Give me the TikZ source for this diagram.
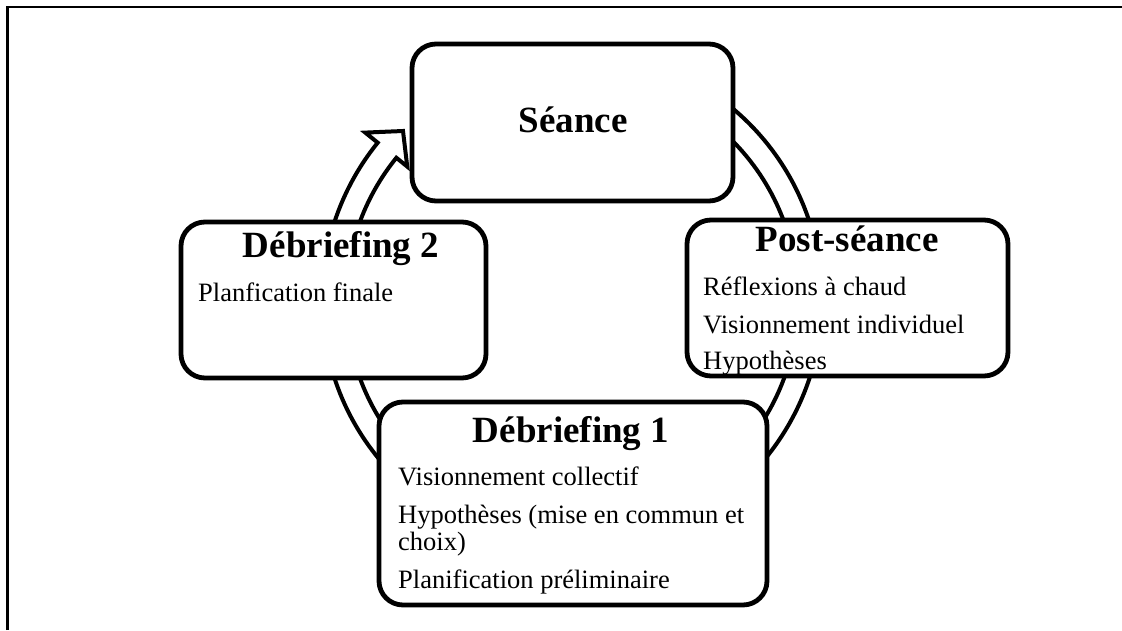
\documentclass[tikz,border=0pt]{standalone}
\usepackage{fontspec}
\setmainfont{Liberation Serif}

\begin{document}
\begin{tikzpicture}[x=1pt,y=1pt]
      \tikzset{
        box/.style={draw,line width=4.8pt,rounded corners=24pt,fill=white,inner sep=0pt},
        title/.style={anchor=base,inner sep=0pt,font=\fontsize{37}{40}\selectfont\bfseries},
        item/.style={anchor=base west,inner sep=0pt,font=\fontsize{26.5}{30}\selectfont},
        ring/.style={draw,line width=4pt,fill=white,line join=miter}
      }
      \useasboundingbox (0,0) rectangle (1122,630);

      % frame
      \draw[line width=2.4pt] (7.3,0) -- (7.3,622.7) -- (1122,622.7);

      % cycle arrow
      \draw[ring,shift={(572,330)}] (100:250) arc[start angle=100,end angle=-219,radius=250]
            -- (141:266) -- (135:239) -- (141:212) -- (141:226)
            arc[start angle=-219,end angle=100,radius=226] -- cycle;

      \node[box,minimum width=321pt,minimum height=157pt] (seance) at (572.5,507.5) {};
      \node[box,minimum width=305pt,minimum height=156pt] (deb2) at (333.5,330) {};
      \node[box,minimum width=321pt,minimum height=156pt] (post) at (847.5,332) {};
      \node[box,minimum width=388pt,minimum height=203pt] (deb1) at (573,126.5) {};

      \node[title] (seanceT) at (573,497) {Séance};

      \node[title] (deb2T) at (341,372) {Débriefing 2};
      \node[item] (deb2a) at (198,328.3) {Planfication finale};

      \node[title] (postT) at (847,378) {Post-séance};
      \node[item] (posta) at (703,334.3) {Réflexions à chaud};
      \node[item] (postb) at (703,296.7) {Visionnement individuel};
      \node[item] (postc) at (703,260) {Hypothèses};

      \node[title] (deb1T) at (571,188) {Débriefing 1};
      \node[item] (deb1a) at (398,145) {Visionnement collectif};
      \node[item] (deb1b) at (398,107) {Hypothèses (mise en commun et};
      \node[item] (deb1c) at (398,80) {choix)};
      \node[item] (deb1d) at (398,42) {Planification préliminaire};
\end{tikzpicture}
\end{document}
